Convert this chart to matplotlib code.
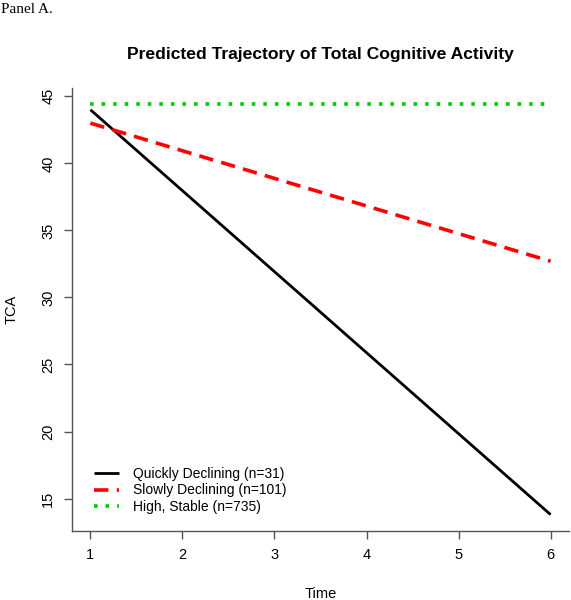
import matplotlib.pyplot as plt

# data
time = [1, 6]
quick = [44.0, 13.8]
slow = [43.0, 32.7]
stable = [44.4, 44.4]
labels = ["Quickly Declining (n=31)", "Slowly Declining (n=101)", "High, Stable (n=735)"]
xticks = [1, 2, 3, 4, 5, 6]
yticks = [15, 20, 25, 30, 35, 40, 45]

plt.rcParams["font.family"] = ["Liberation Sans", "DejaVu Sans"]

fig = plt.figure(figsize=(5.71, 6), dpi=100)
ax = fig.add_axes([72 / 571, 1 - 531 / 600, (569 - 72) / 571, (531 - 88) / 600])

ax.plot(time, quick, color="black", lw=2.0, label=labels[0], solid_capstyle="butt")
ax.plot(time, slow, color="#ff0000", lw=2.6, ls=(0, (4, 2.3)), label=labels[1])
ax.plot(time, stable, color="#00cc00", lw=2.6, ls=(0, (1, 2.2)), label=labels[2])

ax.set_xlim(0.8, 6.2)
ax.set_ylim(12.58, 45.62)
ax.set_xticks(xticks)
ax.set_yticks(yticks)
ax.set_yticklabels([str(v) for v in yticks], rotation=90, va="center")

for s in ["top", "right"]:
    ax.spines[s].set_visible(False)
for s in ["left", "bottom"]:
    ax.spines[s].set_color("#555555")
    ax.spines[s].set_linewidth(1.0)

ax.tick_params(axis="both", length=6, width=1, color="#555555", labelsize=10.5, pad=6)

ax.set_xlabel("Time", fontsize=10.5, labelpad=18)
ax.set_ylabel("TCA", fontsize=10.5, labelpad=16)

ax.set_title("Predicted Trajectory of Total Cognitive Activity", fontsize=12.6, fontweight="bold", pad=21)

ax.legend(loc="lower left", bbox_to_anchor=(0.045, 0.038), frameon=False, fontsize=10,
          handlelength=1.8, handletextpad=0.95, labelspacing=0.2, borderaxespad=0,
          borderpad=0)

fig.text(0.002, 0.995, "Panel A.", family="Liberation Serif", fontsize=11, va="top", ha="left")

fig.savefig("out.png", dpi=100)
